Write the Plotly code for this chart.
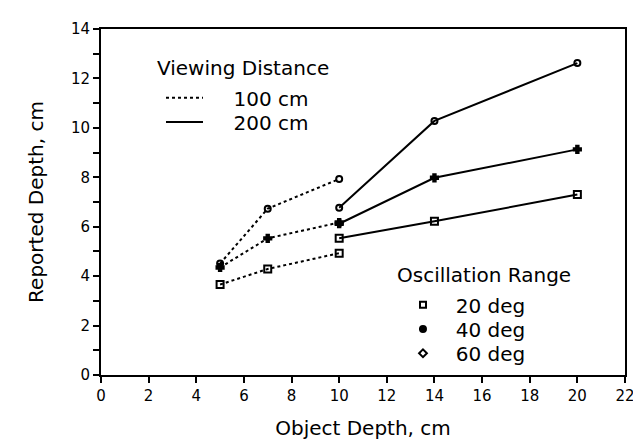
import plotly.graph_objects as go

# Object depth (cm) for each viewing distance
x_100 = [5, 7, 10]
x_200 = [10, 14, 20]

# Reported depth (cm), viewing distance 100 cm
d100_20 = [3.66, 4.29, 4.93]
d100_40 = [4.35, 5.53, 6.17]
d100_60 = [4.51, 6.73, 7.93]

# Reported depth (cm), viewing distance 200 cm
d200_20 = [5.53, 6.22, 7.30]
d200_40 = [6.12, 7.98, 9.13]
d200_60 = [6.77, 10.28, 12.62]

angles = ["20 deg", "40 deg", "60 deg"]
distances = ["100 cm", "200 cm"]
x_ticks = list(range(0, 23, 2))
y_ticks = list(range(0, 15, 2))

FONT = "DejaVu Sans"
TXT = 20
plot_symbols = {"20 deg": "square-open", "40 deg": "cross", "60 deg": "circle-open"}
plot_sizes = {"20 deg": 7, "40 deg": 6, "60 deg": 6}
legend_symbols = {"20 deg": "square-open", "40 deg": "circle", "60 deg": "diamond-open"}
NB = "\u00a0"

fig = go.Figure()

series = [
    ("100 cm", x_100, [d100_20, d100_40, d100_60], "dot"),
    ("200 cm", x_200, [d200_20, d200_40, d200_60], "solid"),
]
for dist, xs, ys_list, dash in series:
    for ang, ys in zip(angles, ys_list):
        fig.add_trace(go.Scatter(
            x=xs, y=ys, mode="lines+markers", showlegend=False,
            line=dict(color="black", width=2, dash=dash),
            marker=dict(symbol=plot_symbols[ang], size=plot_sizes[ang], color="black",
                        line=dict(color="black", width=2)),
        ))

# one single-item legend per entry so each row can be placed like the original
dist_legends = ["legend", "legend2"]
ang_legends = ["legend3", "legend4", "legend5"]
for dist, dash, lg in zip(distances, ["dot", "solid"], dist_legends):
    fig.add_trace(go.Scatter(
        x=[None], y=[None], mode="lines", name=NB * 4 + dist,
        line=dict(color="black", width=2, dash=dash), legend=lg,
    ))
for ang, lg in zip(angles, ang_legends):
    fig.add_trace(go.Scatter(
        x=[None], y=[None], mode="markers", name=NB * 2 + ang,
        marker=dict(symbol=legend_symbols[ang], size=6, color="black",
                    line=dict(color="black", width=2)),
        legend=lg,
    ))

axis_common = dict(
    showline=True, linecolor="black", linewidth=2, mirror=True,
    showgrid=False, zeroline=False, ticks="outside", tickcolor="black",
    tickwidth=1.5, ticklen=6,
)

def leg(x, y, w):
    return dict(x=x, y=y, xanchor="left", yanchor="middle", font=dict(size=TXT),
                bgcolor="rgba(0,0,0,0)", itemwidth=w, tracegroupgap=0)

fig.update_layout(
    width=641, height=440,
    margin=dict(l=93, r=24, t=17, b=66),
    paper_bgcolor="white", plot_bgcolor="white",
    font=dict(family=FONT, color="black", size=TXT),
    xaxis=dict(range=[0, 22], tickvals=x_ticks, ticktext=[str(v) for v in x_ticks],
               tickfont=dict(size=15), title=dict(text="Object Depth, cm", standoff=17,
               font=dict(size=TXT)), **axis_common),
    yaxis=dict(range=[0, 14], tickvals=y_ticks, ticktext=[str(v) for v in y_ticks],
               tickfont=dict(size=15), title=dict(text="Reported Depth, cm", standoff=22,
               font=dict(size=TXT)),
               minor=dict(dtick=1, ticks="outside", ticklen=6, tickcolor="black", tickwidth=1.5),
               **axis_common),
    legend=leg(0.1145, 0.8014, 37),
    legend2=leg(0.1145, 0.7315, 37),
    legend3=leg(0.5763, 0.2028, 30),
    legend4=leg(0.5763, 0.1329, 30),
    legend5=leg(0.5763, 0.0629, 30),
    annotations=[
        dict(text="Viewing Distance", xref="paper", yref="paper", x=0.103, y=0.888,
             xanchor="left", yanchor="middle", showarrow=False, font=dict(size=TXT)),
        dict(text="Oscillation Range", xref="paper", yref="paper", x=0.561, y=0.2895,
             xanchor="left", yanchor="middle", showarrow=False, font=dict(size=TXT)),
    ],
)

fig.write_html("out.html")
